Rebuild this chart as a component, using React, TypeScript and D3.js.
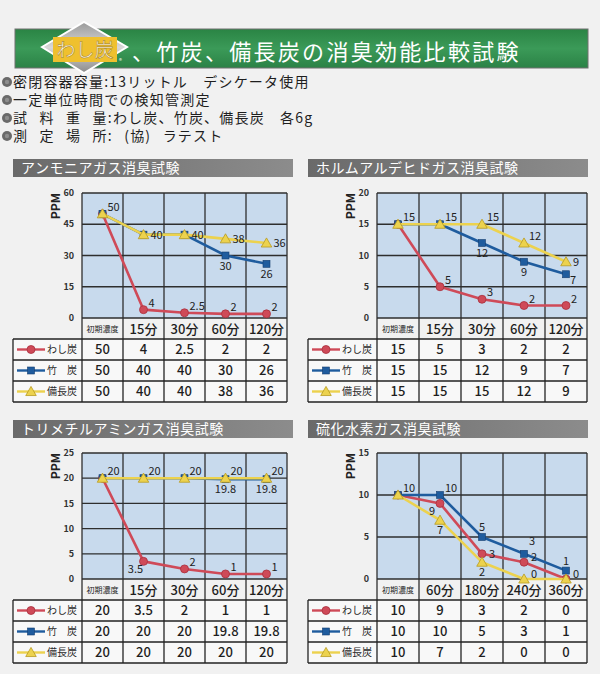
import React, { useEffect, useRef } from 'react';
import * as d3 from 'd3';

// ---- data ----
const panelTitles = [
  'アンモニアガス消臭試験',
  'ホルムアルデヒドガス消臭試験',
  'トリメチルアミンガス消臭試験',
  '硫化水素ガス消臭試験',
];
const timesShort = ['初期濃度', '15分', '30分', '60分', '120分'];
const timesLong = ['初期濃度', '60分', '180分', '240分', '360分'];
const seriesNames = ['わし炭', '竹　炭', '備長炭'];

const ammoniaWashi = [50, 4, 2.5, 2, 2];
const ammoniaTake = [50, 40, 40, 30, 26];
const ammoniaBincho = [50, 40, 40, 38, 36];
const ammoniaTicks = [0, 15, 30, 45, 60];

const formWashi = [15, 5, 3, 2, 2];
const formTake = [15, 15, 12, 9, 7];
const formBincho = [15, 15, 15, 12, 9];
const formTicks = [0, 5, 10, 15, 20];

const tmaWashi = [20, 3.5, 2, 1, 1];
const tmaTake = [20, 20, 20, 19.8, 19.8];
const tmaBincho = [20, 20, 20, 20, 20];
const tmaTicks = [0, 5, 10, 15, 20, 25];

const h2sWashi = [10, 9, 3, 2, 0];
const h2sTake = [10, 10, 5, 3, 1];
const h2sBincho = [10, 7, 2, 0, 0];
const h2sTicks = [0, 5, 10, 15];

const notes = [
  '密閉容器容量:13リットル　デシケータ使用',
  '一定単位時間での検知管測定',
  '試 料 重 量:わし炭、竹炭、備長炭　各6g',
  '測 定 場 所: (協) ラテスト',
];

// which point labels are shown: [series, point, placement]
type Spot = [number, number, string];
const ammoniaSpots: Spot[] = [
  [2, 0, 'ur'], [0, 1, 'ur'], [0, 2, 'ur'], [0, 3, 'ur'], [0, 4, 'ur'],
  [2, 1, 'r'], [2, 2, 'r'], [2, 3, 'r'], [2, 4, 'r'], [1, 3, 'b'], [1, 4, 'b'],
];
const formSpots: Spot[] = [
  [2, 0, 'ur'], [2, 1, 'ur'], [2, 2, 'ur'], [2, 3, 'ur'], [2, 4, 'r'],
  [1, 2, 'b'], [1, 3, 'b'], [1, 4, 'rb'],
  [0, 1, 'ur'], [0, 2, 'ur'], [0, 3, 'ur'], [0, 4, 'ur'],
];
const tmaSpots: Spot[] = [
  [2, 0, 'ur'], [2, 1, 'ur'], [2, 2, 'ur'], [2, 3, 'ur'], [2, 4, 'ur'],
  [1, 3, 'b'], [1, 4, 'b'], [0, 1, 'bl'], [0, 2, 'ur'], [0, 3, 'ur'], [0, 4, 'ur'],
];
const h2sSpots: Spot[] = [
  [0, 0, 'ur'], [1, 1, 'ur'], [0, 1, 'bl'], [2, 1, 'b'], [1, 2, 'a'], [0, 2, 'r'],
  [2, 2, 'b'], [1, 3, 'ux'], [0, 3, 'ru'], [2, 3, 'rz'], [1, 4, 'a'], [0, 4, 'rz'],
];

const colors = ['#cf4a58', '#1f5c9e', '#ecd24e'];
const edgeColors = ['#a8303e', '#163f70', '#b89a20'];
const FONT = "'Noto Sans CJK JP', 'Noto Sans', sans-serif";

const placements: Record<string, { dx: number; dy: number; anchor: string }> = {
  ur: { dx: 5, dy: -3, anchor: 'start' },
  ux: { dx: 5, dy: -9, anchor: 'start' },
  r: { dx: 7, dy: 4, anchor: 'start' },
  ru: { dx: 7, dy: -1, anchor: 'start' },
  rz: { dx: 7, dy: -1, anchor: 'start' },
  b: { dx: 0, dy: 14, anchor: 'middle' },
  bl: { dx: -8, dy: 12, anchor: 'middle' },
  a: { dx: 0, dy: -6, anchor: 'middle' },
  rb: { dx: 4, dy: 10, anchor: 'start' },
};

const App = () => {
  const ref = useRef<SVGSVGElement | null>(null);

  useEffect(() => {
    if (!ref.current) return;
    const svg = d3.select(ref.current);
    svg.selectAll('*').remove();

    const defs = svg.append('defs');
    const g1 = defs.append('linearGradient').attr('id', 'green').attr('x1', 0).attr('y1', 0).attr('x2', 0).attr('y2', 1);
    g1.append('stop').attr('offset', '0%').attr('stop-color', '#2a8444');
    g1.append('stop').attr('offset', '50%').attr('stop-color', '#3b9a58');
    g1.append('stop').attr('offset', '100%').attr('stop-color', '#2b8246');
    const g2 = defs.append('linearGradient').attr('id', 'grayBar').attr('x1', 0).attr('y1', 0).attr('x2', 1).attr('y2', 0);
    g2.append('stop').attr('offset', '0%').attr('stop-color', '#6a6a6a');
    g2.append('stop').attr('offset', '100%').attr('stop-color', '#8c8c8c');
    const g3 = defs.append('linearGradient').attr('id', 'diamond').attr('x1', 0).attr('y1', 0).attr('x2', 0).attr('y2', 1);
    g3.append('stop').attr('offset', '0%').attr('stop-color', '#9a9a9a');
    g3.append('stop').attr('offset', '50%').attr('stop-color', '#d8d8d8');
    g3.append('stop').attr('offset', '100%').attr('stop-color', '#8a8a8a');

    svg.append('rect').attr('width', 600).attr('height', 674).attr('fill', '#f1f1f1');

    // ---- title banner ----
    svg.append('rect').attr('x', 15).attr('y', 29).attr('width', 573).attr('height', 39)
      .attr('fill', 'url(#green)').attr('stroke', '#707070').attr('stroke-width', 1);
    svg.append('polygon').attr('points', '42,47 84,22 127,47 84,73')
      .attr('fill', 'url(#diamond)').attr('stroke', '#ffffff').attr('stroke-width', 2);
    svg.append('rect').attr('x', 53).attr('y', 37).attr('width', 64).attr('height', 25).attr('fill', '#efc02e');
    svg.append('text').attr('x', 85).attr('y', 57).attr('text-anchor', 'middle')
      .attr('font-family', FONT).attr('font-size', 19).attr('fill', '#fff6dc')
      .attr('stroke', '#9c7a22').attr('stroke-width', 0.5).text('わし炭');
    svg.append('text').attr('x', 119).attr('y', 63).attr('font-family', FONT).attr('font-size', 6)
      .attr('fill', '#fff').text('®');
    svg.append('text').attr('x', 132).attr('y', 60).attr('font-family', FONT).attr('font-size', 22)
      .attr('letter-spacing', 2.3).attr('fill', '#ffffff').text('、竹炭、備長炭の消臭効能比較試験');

    // ---- notes ----
    const noteY = [87, 105, 123, 141];
    notes.forEach((t, i) => {
      svg.append('circle').attr('cx', 7).attr('cy', noteY[i] - 5).attr('r', 5).attr('fill', '#6a6a6a');
      svg.append('circle').attr('cx', 7).attr('cy', noteY[i] - 5).attr('r', 2.2).attr('fill', '#8e8e8e');
      svg.append('text').attr('x', 13).attr('y', noteY[i]).attr('font-family', FONT).attr('font-size', 14)
        .attr('letter-spacing', 1.2)
        .attr('fill', '#1e1e1e').attr('word-spacing', 7).attr('xml:space', 'preserve').text(t);
    });

    const panels = [
      { title: panelTitles[0], times: timesShort, series: [ammoniaWashi, ammoniaTake, ammoniaBincho], ticks: ammoniaTicks, spots: ammoniaSpots, left: 13, right: 293, plotL: 82, plotR: 287, headY: 159, plotT: 193, plotB: 318 },
      { title: panelTitles[1], times: timesShort, series: [formWashi, formTake, formBincho], ticks: formTicks, spots: formSpots, left: 308, right: 588, plotL: 377, plotR: 587, headY: 159, plotT: 193, plotB: 318 },
      { title: panelTitles[2], times: timesShort, series: [tmaWashi, tmaTake, tmaBincho], ticks: tmaTicks, spots: tmaSpots, left: 13, right: 293, plotL: 82, plotR: 287, headY: 420, plotT: 453, plotB: 579 },
      { title: panelTitles[3], times: timesLong, series: [h2sWashi, h2sTake, h2sBincho], ticks: h2sTicks, spots: h2sSpots, left: 308, right: 588, plotL: 377, plotR: 587, headY: 420, plotT: 453, plotB: 579 },
    ];

    const drawMarker = (sel: any, type: number, cx: number, cy: number) => {
      if (type === 0) {
        sel.append('circle').attr('cx', cx).attr('cy', cy).attr('r', 4)
          .attr('fill', colors[0]).attr('stroke', edgeColors[0]).attr('stroke-width', 0.8);
      } else if (type === 1) {
        sel.append('rect').attr('x', cx - 3.5).attr('y', cy - 3.5).attr('width', 7).attr('height', 7)
          .attr('fill', colors[1]).attr('stroke', edgeColors[1]).attr('stroke-width', 0.6);
      } else {
        sel.append('path').attr('d', d3.symbol().type(d3.symbolTriangle).size(48)())
          .attr('transform', `translate(${cx},${cy + 1})`)
          .attr('fill', colors[2]).attr('stroke', edgeColors[2]).attr('stroke-width', 0.8);
      }
    };

    panels.forEach((p) => {
      const g = svg.append('g');
      // header bar
      g.append('rect').attr('x', p.left).attr('y', p.headY).attr('width', p.right - p.left).attr('height', 18)
        .attr('fill', 'url(#grayBar)');
      g.append('text').attr('x', p.left + 8).attr('y', p.headY + 14).attr('font-family', FONT)
        .attr('font-size', 14).attr('fill', '#ffffff').attr('letter-spacing', 0.5).text(p.title);

      const x = d3.scaleBand<number>().domain(d3.range(5)).range([p.plotL, p.plotR]);
      const cx = (i: number) => x(i)! + x.bandwidth() / 2;
      const y = d3.scaleLinear().domain([0, d3.max(p.ticks)!]).range([p.plotB, p.plotT]);

      g.append('rect').attr('x', p.plotL).attr('y', p.plotT).attr('width', p.plotR - p.plotL)
        .attr('height', p.plotB - p.plotT).attr('fill', '#c8daed');

      // grid
      g.selectAll(null).data(p.ticks).enter().append('line')
        .attr('x1', p.plotL).attr('x2', p.plotR).attr('y1', (d) => y(d)).attr('y2', (d) => y(d))
        .attr('stroke', '#2e2e2e').attr('stroke-width', 1.3);
      const edges = d3.range(6).map((i) => (i < 5 ? x(i)! : p.plotR));
      g.selectAll(null).data(edges).enter().append('line')
        .attr('x1', (d) => d).attr('x2', (d) => d).attr('y1', p.plotT).attr('y2', p.plotB + 21)
        .attr('stroke', '#2e2e2e').attr('stroke-width', 1.3);

      // tick labels
      g.selectAll(null).data(p.ticks).enter().append('text')
        .attr('x', p.plotL - 8).attr('y', (d) => y(d)).attr('dy', '0.35em').attr('text-anchor', 'end')
        .attr('font-family', FONT).attr('font-size', 9).attr('font-weight', 700).attr('fill', '#333')
        .text((d) => d);
      g.append('text').attr('transform', `translate(${p.plotL - 22},${p.plotT}) rotate(-90)`)
        .attr('text-anchor', 'end').attr('font-family', FONT).attr('font-size', 12).attr('font-weight', 700)
        .attr('fill', '#222').text('PPM');

      // lines and markers
      const line = d3.line<number>().x((_, i) => cx(i)).y((d) => y(d));
      p.series.forEach((s, si) => {
        g.append('path').datum(s).attr('d', line).attr('fill', 'none')
          .attr('stroke', colors[si]).attr('stroke-width', 2.6).attr('stroke-linejoin', 'round');
        s.forEach((v, i) => drawMarker(g, si, cx(i), y(v)));
      });

      // point labels
      p.spots.forEach(([si, pi, code]) => {
        const pl = placements[code];
        g.append('text').attr('x', cx(pi) + pl.dx).attr('y', y(p.series[si][pi]) + pl.dy)
          .attr('text-anchor', pl.anchor).attr('font-family', FONT).attr('font-size', 11)
          .attr('fill', '#222').text(p.series[si][pi]);
      });

      // table header row
      const hb = p.plotB + 21;
      g.selectAll(null).data(p.times).enter().append('text')
        .attr('x', (_, i) => cx(i)).attr('y', p.plotB + 11).attr('dy', '0.36em').attr('text-anchor', 'middle')
        .attr('font-family', FONT).attr('font-size', (_, i) => (i === 0 ? 8 : 13))
        .attr('font-weight', (_, i) => (i === 0 ? 400 : 500)).attr('fill', '#1e1e1e')
        .text((d) => d);

      // table body
      const rowH = 21;
      const tb = g.append('g');
      tb.append('rect').attr('x', p.left).attr('y', hb).attr('width', p.plotR - p.left).attr('height', rowH * 3)
        .attr('fill', '#f8f8f8');
      p.series.forEach((s, si) => {
        const ry = hb + si * rowH;
        const my = ry + rowH / 2;
        tb.append('line').attr('x1', p.left + 4).attr('x2', p.left + 32).attr('y1', my).attr('y2', my)
          .attr('stroke', colors[si]).attr('stroke-width', 2.4);
        drawMarker(tb, si, p.left + 18, my);
        tb.append('text').attr('x', p.left + 34).attr('y', my).attr('dy', '0.36em')
          .attr('font-family', FONT).attr('font-size', 10).attr('fill', '#2a2a2a').attr('xml:space', 'preserve')
          .text(seriesNames[si]);
        s.forEach((v, i) => {
          tb.append('text').attr('x', cx(i)).attr('y', my).attr('dy', '0.36em').attr('text-anchor', 'middle')
            .attr('font-family', FONT).attr('font-size', 13).attr('font-weight', 500).attr('fill', '#1e1e1e')
            .text(v);
        });
      });
      d3.range(4).forEach((r) => {
        tb.append('line').attr('x1', p.left).attr('x2', p.plotR).attr('y1', hb + r * rowH).attr('y2', hb + r * rowH)
          .attr('stroke', '#222').attr('stroke-width', 1.3);
      });
      [p.left, ...edges].forEach((ex) => {
        tb.append('line').attr('x1', ex).attr('x2', ex).attr('y1', hb).attr('y2', hb + rowH * 3)
          .attr('stroke', '#222').attr('stroke-width', 1.3);
      });
    });
  }, []);

  return (
    <svg ref={ref} width={600} height={674} style={{ position: 'absolute', left: 0, top: 0, display: 'block' }} />
  );
};

export default App;
